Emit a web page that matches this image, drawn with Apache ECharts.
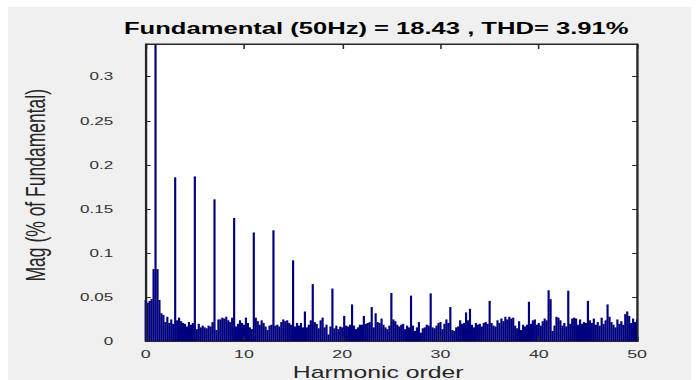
<!DOCTYPE html>
<html><head><meta charset="utf-8">
<script src="https://cdn.jsdelivr.net/npm/echarts@6/dist/echarts.min.js"></script>
<style>
html,body{margin:0;padding:0;width:699px;height:380px;overflow:hidden;background:#fff;}
#frame{position:absolute;left:8px;top:7px;width:683px;height:373px;background:#f0f0f0;}
#chart{position:absolute;left:0;top:0;width:451px;height:380px;transform:scaleX(1.55);transform-origin:0 0;}
</style></head><body>
<div id="frame"></div><div id="chart"></div>
<script>
const titleText = 'Fundamental (50Hz) = 18.43 , THD= 3.91%';
const xAxisName = 'Harmonic order';
const yAxisName = 'Mag (% of Fundamental)';
const xTicks = [0, 10, 20, 30, 40, 50];
const yTicks = [0, 0.05, 0.1, 0.15, 0.2, 0.25, 0.3];
const orderStep = 0.2; // spectral resolution (10 Hz = 0.2 harmonic)

// magnitudes (% of fundamental), one value per 0.2 harmonic order
const mag00to10 = [
  0.047,0.044,0.046,0.048,0.082, 100,0.082,0.047,0.032,0.030,
  0.022,0.028,0.021,0.025,0.020, 0.186,0.024,0.027,0.023,0.021,
  0.020,0.017,0.022,0.019,0.021, 0.187,0.014,0.020,0.016,0.018,
  0.016,0.015,0.018,0.017,0.022, 0.161,0.013,0.025,0.025,0.027,
  0.026,0.028,0.024,0.022,0.027, 0.140,0.017,0.020,0.024,0.021
];
const mag10to20 = [
  0.019,0.027,0.021,0.016,0.014, 0.1235,0.027,0.023,0.019,0.024,
  0.021,0.017,0.013,0.018,0.019, 0.126,0.018,0.019,0.017,0.022,
  0.025,0.023,0.024,0.021,0.019, 0.092,0.017,0.021,0.018,0.021,
  0.016,0.034,0.016,0.019,0.024, 0.065,0.022,0.020,0.015,0.024,
  0.027,0.016,0.019,0.008,0.017, 0.060,0.015,0.018,0.014,0.017
];
const mag20to30 = [
  0.016,0.029,0.018,0.017,0.019, 0.042,0.018,0.014,0.016,0.019,
  0.019,0.029,0.020,0.021,0.022, 0.039,0.016,0.032,0.022,0.021,
  0.026,0.019,0.016,0.014,0.018, 0.055,0.025,0.023,0.019,0.017,
  0.019,0.020,0.014,0.018,0.016, 0.052,0.018,0.012,0.016,0.022,
  0.010,0.015,0.016,0.019,0.018, 0.0545,0.016,0.015,0.018,0.021
];
const mag30to40 = [
  0.022,0.014,0.020,0.025,0.021, 0.039,0.013,0.012,0.016,0.017,
  0.024,0.020,0.021,0.033,0.024, 0.037,0.019,0.016,0.021,0.019,
  0.020,0.017,0.021,0.022,0.020, 0.046,0.021,0.018,0.017,0.024,
  0.021,0.026,0.023,0.028,0.025, 0.028,0.026,0.027,0.018,0.015,
  0.023,0.013,0.019,0.017,0.019, 0.045,0.020,0.024,0.025,0.019
];
const mag40to50 = [
  0.021,0.018,0.023,0.026,0.024, 0.058,0.048,0.012,0.018,0.028,
  0.027,0.024,0.018,0.021,0.017, 0.0575,0.020,0.026,0.027,0.026,
  0.019,0.025,0.020,0.022,0.021, 0.046,0.024,0.021,0.026,0.019,
  0.022,0.018,0.027,0.020,0.024, 0.042,0.028,0.022,0.019,0.016,
  0.025,0.020,0.023,0.019,0.031, 0.034,0.029,0.021,0.026,0.022,
  0.025
];

const magnitudes = [].concat(mag00to10, mag10to20, mag20to30, mag30to40, mag40to50);
const barData = magnitudes.map((v, i) => [Number((i * orderStep).toFixed(1)), v]);

const FONT = "'Liberation Sans', Arial, Helvetica, sans-serif";
const AXIS_COLOR = '#262626';
const yMax = 0.337;

const chart = echarts.init(document.getElementById('chart'), null, {renderer: 'svg'});
const tickAxisCommon = {
  z: 10,
  axisLine: {show: true, onZero: false, lineStyle: {color: AXIS_COLOR, width: 1}},
  splitLine: {show: false},
};
chart.setOption({
  animation: false,
  backgroundColor: 'transparent',
  title: {
    text: titleText, left: 80, top: 20, padding: 0,
    textStyle: {fontFamily: FONT, fontWeight: 'bold', fontSize: 16.5, color: '#000'}
  },
  grid: {left: 94, top: 44, width: 317, height: 297.5, show: true, z: -1,
    outerBoundsMode: 'none', containLabel: false,
    backgroundColor: '#fff', borderColor: AXIS_COLOR, borderWidth: 1},
  xAxis: [
    Object.assign({
      type: 'value', min: xTicks[0], max: xTicks[xTicks.length - 1], interval: 10, position: 'bottom',
      name: xAxisName, nameLocation: 'middle', nameGap: 17,
      nameTextStyle: {fontFamily: FONT, fontSize: 16, lineHeight: 16, color: '#262626', padding: [0, 17, 0, 0]},
      axisTick: {show: true, inside: true, length: 5, lineStyle: {color: AXIS_COLOR}},
      axisLabel: {fontFamily: FONT, fontSize: 11.5, color: '#333', margin: 6}
    }, tickAxisCommon),
    Object.assign({
      type: 'value', min: xTicks[0], max: xTicks[xTicks.length - 1], interval: 10, position: 'top',
      axisTick: {show: true, inside: true, length: 5, lineStyle: {color: AXIS_COLOR}},
      axisLabel: {show: false}
    }, tickAxisCommon)
  ],
  yAxis: [
    Object.assign({
      type: 'value', min: yTicks[0], max: yMax, interval: 0.05, position: 'left',
      name: yAxisName, nameLocation: 'middle', nameGap: 62,
      nameTextStyle: {fontFamily: FONT, fontSize: 17.5, color: '#262626', padding: [0, 0, 0, 15]},
      axisTick: {show: true, inside: true, length: 3.2, lineStyle: {color: AXIS_COLOR}},
      axisLabel: {fontFamily: FONT, fontSize: 11, color: '#333', margin: 21, showMaxLabel: false,
        formatter: v => (yTicks.some(t => Math.abs(t - v) < 1e-9) ? String(+v.toFixed(2)) : '')}
    }, tickAxisCommon),
    Object.assign({
      type: 'value', min: yTicks[0], max: yMax, interval: 0.05, position: 'right',
      axisTick: {show: true, inside: true, length: 3.2, lineStyle: {color: AXIS_COLOR}},
      axisLabel: {show: false}
    }, tickAxisCommon)
  ],
  series: [{
    type: 'bar', xAxisIndex: 0, yAxisIndex: 0, data: barData,
    barWidth: 1.4, clip: true, silent: true,
    itemStyle: {color: '#00007e'}
  }]
});
</script>
</body></html>
